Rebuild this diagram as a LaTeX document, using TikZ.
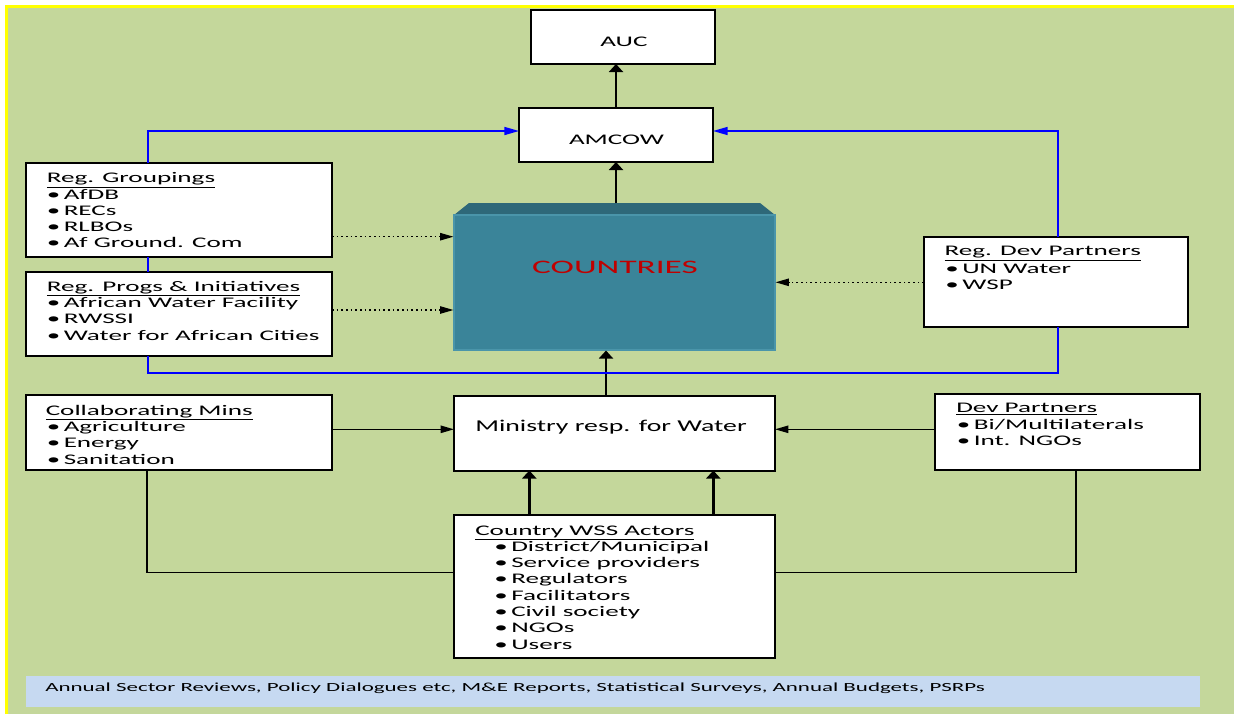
\documentclass[tikz,border=0pt]{standalone}
\usepackage{fontspec}
\setmainfont{Carlito}[FakeStretch=1.85]
\newfontfamily\minfont{Carlito}[FakeStretch=1.68]
\usetikzlibrary{arrows.meta,fit}
\definecolor{bggreen}{HTML}{C4D79B}
\definecolor{bdyellow}{HTML}{FFFF00}
\definecolor{barblue}{HTML}{C6D9F1}
\definecolor{cfront}{HTML}{3A8499}
\definecolor{ctopc}{HTML}{2E6879}
\definecolor{cedge}{HTML}{4A95AA}
\definecolor{cred}{HTML}{C00000}
\definecolor{lblue}{HTML}{0000FF}
\newcommand\itm[1]{\makebox[12.75pt][l]{\textbullet}#1}
\begin{document}
\begin{tikzpicture}[x=0.75pt,y=-0.75pt,
  box/.style={draw=black, line width=1.5pt, fill=white, inner sep=0pt, outer sep=0pt},
  txt/.style={inner sep=0pt, anchor=base west, font=\fontsize{11}{13}\selectfont},
  ctxt/.style={inner sep=0pt, anchor=base, font=\fontsize{11}{13}\selectfont},
  varr/.style={draw=black, line width=2.2pt, -{Triangle[length=6pt,width=10.5pt]}},
  harr/.style={draw=black, line width=1.1pt, -{Triangle[length=10pt,width=5.5pt]}},
  darr/.style={draw=black, line width=1pt, dash pattern=on 1.3pt off 2.2pt, -{Triangle[length=10pt,width=5.5pt]}},
  barr/.style={draw=lblue, line width=1.2pt, -{Triangle[length=11pt,width=6pt]}},
  bline/.style={draw=lblue, line width=1.2pt},
  cline/.style={draw=black, line width=1.4pt}]
\useasboundingbox (0,0) rectangle (1234,714);
% background
\fill[white] (0,0) rectangle (1234,714);
\fill[bggreen] (6.5,6) rectangle (1234,714);
\draw[bdyellow, line width=2.25pt] (6.5,714) -- (6.5,6) -- (1234,6);

% helper coordinates
\coordinate (ytop) at (0,131);
\coordinate (ybot) at (0,373);
\coordinate (ymid) at (0,572.5);
\coordinate (xl) at (148,0);
\coordinate (xlb) at (147,0);
\coordinate (xrb) at (1058,0);
\coordinate (xr) at (1076,0);
\coordinate (hy) at (0,429.3);
\coordinate (d1) at (0,236.7);
\coordinate (d2) at (0,310);
\coordinate (d3) at (0,282.3);
\coordinate (ctop) at (616,203);
\coordinate (m1) at (606,395);
\coordinate (w1) at (529.3,515);
\coordinate (w2) at (713.3,515);

% boxes
\node[box, fit={(531,10)(715,64)}] (auc) {};
\node[box, fit={(519,108)(713,162)}] (amcow) {};
\fill[ctopc] (454,215) -- (469,203) -- (760,203) -- (775,215) -- cycle;
\node[fill=cfront, draw=cedge, line width=0.8pt, inner sep=0pt, fit={(454,215)(775,350)}] (countries) {};
\node[box, fit={(26,163)(332,257)}] (rg) {};
\node[box, fit={(26,272)(332,356)}] (rp) {};
\node[box, fit={(924,237)(1188,327)}] (rdp) {};
\node[box, fit={(26,395)(332,470)}] (collab) {};
\node[box, fit={(454,395.5)(775,470.5)}] (ministry) {};
\node[box, fit={(935,394)(1200,470)}] (devp) {};
\node[box, fit={(454,515)(775,658)}] (wss) {};
\node[fill=barblue, inner sep=0pt, fit={(26,676)(1200,707)}] (bar) {};

% texts
\node[ctxt] (auc-t) at (624,46) {AUC};
\node[ctxt] (amcow-t) at (616.5,144) {AMCOW};
\node[inner sep=0pt, anchor=base, text=cred, font=\fontsize{14.3}{16}\selectfont] (countries-t) at (615,273.3) {COUNTRIES};
\node[inner sep=0pt, anchor=base west, font=\minfont\fontsize{12.4}{14}\selectfont] (ministry-t) at (475,431.7) {Ministry resp. for Water};

\node[txt] (rg-t) at (46.5,182.7) {\underline{Reg. Groupings}};
\foreach \s [count=\i] in {AfDB,RECs,RLBOs,Af Ground. Com}
  \node[txt] (rg-\i) at (46.5,183+16.2*\i) {\itm{\s}};

\node[txt] (rp-t) at (46.5,291) {\underline{Reg. Progs \& Initiatives}};
\foreach \s [count=\i] in {African Water Facility,RWSSI,Water for African Cities}
  \node[txt] (rp-\i) at (46.5,291+16.4*\i) {\itm{\s}};

\node[txt] (rdp-t) at (944.3,255.5) {\underline{Reg. Dev Partners}};
\foreach \s [count=\i] in {UN Water,WSP}
  \node[txt] (rdp-\i) at (945,257+16.2*\i) {\itm{\s}};

\node[txt] (collab-t) at (45.5,415) {\underline{Collaborating Mins}};
\foreach \s [count=\i] in {Agriculture,Energy,Sanitation}
  \node[txt] (collab-\i) at (46.5,415+16.4*\i) {\itm{\s}};

\node[txt] (devp-t) at (956,412.7) {\underline{Dev Partners}};
\foreach \s [count=\i] in {Bi/Multilaterals,Int. NGOs}
  \node[txt] (devp-\i) at (956.5,413+16.2*\i) {\itm{\s}};

\node[txt] (wss-t) at (475,535) {\underline{Country WSS Actors}};
\foreach \s [count=\i] in {District/Municipal,Service providers,Regulators,Facilitators,Civil society,NGOs,Users}
  \node[txt] (wss-\i) at (494,535+16.3*\i) {\itm{\s}};

\node[inner sep=0pt, anchor=base west, font=\fontsize{9.3}{11}\selectfont] (bar-t) at (45,691.7) {Annual Sector Reviews, Policy Dialogues etc, M\&E Reports, Statistical Surveys, Annual Budgets, PSRPs};

% vertical arrows
\draw[varr] (ctop) -- (ctop |- amcow.south);
\draw[varr] (ctop |- amcow.north) -- (ctop |- auc.south);
\draw[varr] (m1) -- (m1 |- countries.south);
\draw[varr] (w1) -- (w1 |- ministry.south);
\draw[varr] (w2) -- (w2 |- ministry.south);

% horizontal arrows
\draw[harr] (collab.east |- hy) -- (ministry.west |- hy);
\draw[harr] (devp.west |- hy) -- (ministry.east |- hy);

% dotted arrows
\draw[darr] (rg.east |- d1) -- (countries.west |- d1);
\draw[darr] (rp.east |- d2) -- (countries.west |- d2);
\draw[darr] (rdp.west |- d3) -- (countries.east |- d3);

% blue connectors
\draw[barr] (xl |- rg.north) -- (xl |- ytop) -- (amcow.west |- ytop);
\draw[bline] (xl |- rg.south) -- (xl |- rp.north);
\draw[bline] (xl |- rp.south) -- (xl |- ybot) -- (xrb |- ybot) -- (xrb |- rdp.south);
\draw[barr] (xrb |- rdp.north) -- (xrb |- ytop) -- (amcow.east |- ytop);

% black bottom connectors
\draw[cline] (xlb |- collab.south) -- (xlb |- ymid) -- (wss.west |- ymid);
\draw[cline] (wss.east |- ymid) -- (xr |- ymid) -- (xr |- devp.south);
\end{tikzpicture}
\end{document}
